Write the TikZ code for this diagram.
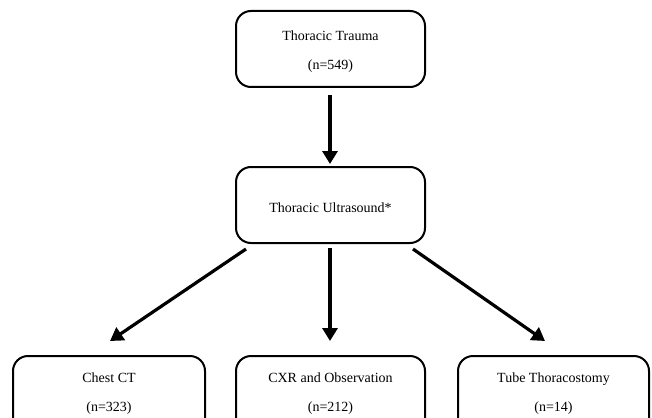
\documentclass[tikz,border=0pt]{standalone}
\usepackage{fontspec}
\setmainfont{Liberation Serif}
\usetikzlibrary{arrows.meta}
\begin{document}
\begin{tikzpicture}[x=1pt,y=-1pt,
  txt/.style={align=center,font=\fontsize{14}{29}\selectfont},
  box/.style={txt,draw,line width=2pt,rounded corners=15pt,inner sep=0pt},
  arr/.style={line width=3.2pt,-{Triangle[length=13pt,width=15pt]}}]
\clip (0,0) rectangle (652,417);
\node[box,minimum width=189pt,minimum height=76pt] (tt) at (330.5,49) {};
\node[txt] (ttt) at (330.5,52) {Thoracic Trauma\\(n=549)};
\node[box,minimum width=189pt,minimum height=76pt] (us) at (330.5,205) {};
\node[txt] (ust) at (330.5,208) {Thoracic Ultrasound*};
\node[box,minimum width=192pt,minimum height=90pt,anchor=north] (ct) at (109,355) {};
\node[box,minimum width=189pt,minimum height=90pt,anchor=north] (cx) at (330.5,355) {};
\node[box,minimum width=191pt,minimum height=90pt,anchor=north] (tu) at (553.5,355) {};
\node[txt] (ctt) at (109,394) {Chest CT\\(n=323)};
\node[txt] (cxt) at (330.5,394) {CXR and Observation\\(n=212)};
\node[txt] (tut) at (553.5,394) {Tube Thoracostomy\\(n=14)};
\coordinate (a1) at (330,95);
\coordinate (a2) at (330,164);
\draw[arr] (a1) -- (a2);
\coordinate (b0) at (246,249);
\coordinate (b1) at (110,341);
\draw[arr] (b0) -- (b1);
\coordinate (c0) at (330,248);
\coordinate (c1) at (330,341);
\draw[arr] (c0) -- (c1);
\coordinate (d0) at (413,249);
\coordinate (d1) at (545,341);
\draw[arr] (d0) -- (d1);
\end{tikzpicture}
\end{document}
